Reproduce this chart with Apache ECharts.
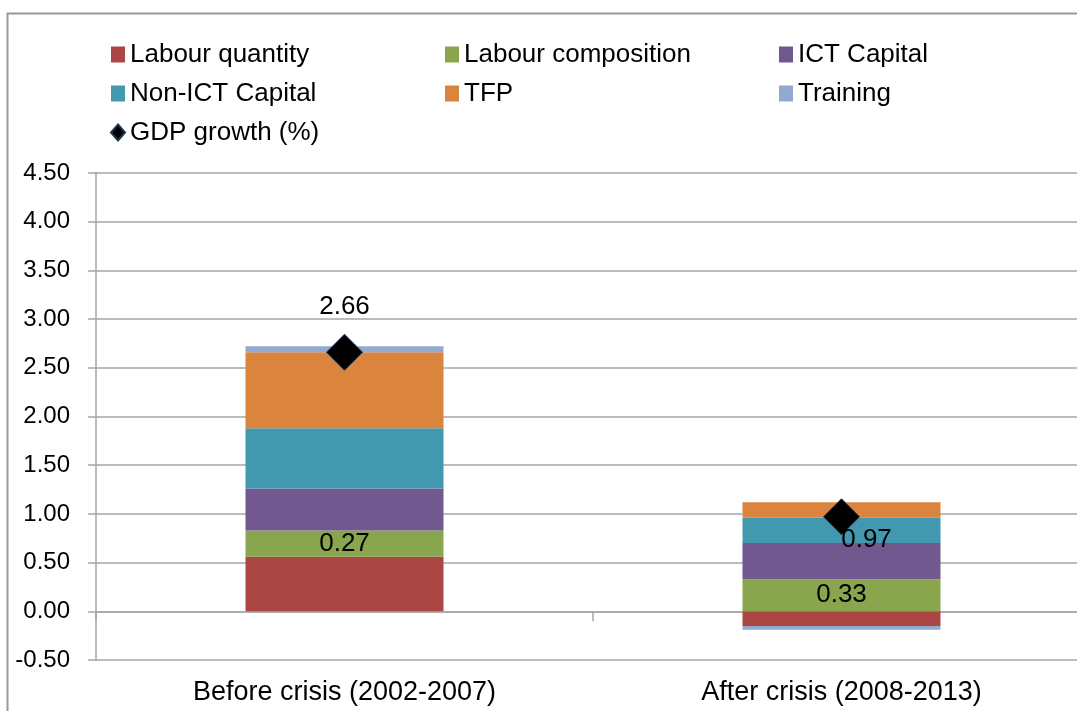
<!DOCTYPE html>
<html>
<head>
<meta charset="utf-8">
<script src="https://cdn.jsdelivr.net/npm/echarts@6/dist/echarts.min.js"></script>
<style>
    html, body { margin: 0; padding: 0; background: #fff; overflow: hidden; }
    #chart { width: 1090px; height: 711px; }
</style>
</head>
<body>
<div id="chart"></div>
<script>
// growth accounting data
let categories = ['Before crisis (2002-2007)', 'After crisis (2008-2013)'];
let labourQuantity = [0.56, -0.15];
let labourComposition = [0.27, 0.33];
let ictCapital = [0.43, 0.37];
let nonIctCapital = [0.62, 0.26];
let tfp = [0.78, 0.16];
let training = [0.06, -0.04];
let gdpGrowth = [2.66, 0.97];
let yTicks = {min: -0.5, max: 4.5, interval: 0.5};

let fontName = "'Liberation Sans', Arial, sans-serif";
let gridColor = '#a6a6a6';

let chart = echarts.init(document.getElementById('chart'));

function barSeries(name, data, color, showLabel) {
    return {
        name: name,
        type: 'bar',
        stack: 'total',
        xAxisIndex: 0,
        barWidth: 198,
        data: data,
        itemStyle: {color: color},
        label: {
            show: showLabel,
            position: 'inside',
            color: '#000',
            fontSize: 26,
            fontFamily: fontName,
            formatter: function (p) {
                return p.value.toFixed(2);
            }
        }
    };
}

let gdpLabel = {
    show: true,
    color: '#000',
    fontSize: 26,
    fontFamily: fontName
};

let option = {
    backgroundColor: '#fff',
    animation: false,
    textStyle: {fontFamily: fontName, color: '#000'},
    graphic: [{
        type: 'rect',
        left: 5,
        top: 11,
        shape: {width: 1200, height: 800},
        style: {fill: 'none', stroke: '#999', lineWidth: 2},
        silent: true
    }],
    legend: {
        left: 105,
        top: 35,
        width: 1000,
        itemWidth: 14,
        itemHeight: 16,
        itemGap: 10,
        textStyle: {
            fontSize: 26,
            color: '#000',
            width: 305,
            lineHeight: 29,
            fontFamily: fontName
        },
        data: [
            {name: 'Labour quantity', icon: 'rect'},
            {name: 'Labour composition', icon: 'rect'},
            {name: 'ICT Capital', icon: 'rect'},
            {name: 'Non-ICT Capital', icon: 'rect'},
            {name: 'TFP', icon: 'rect'},
            {name: 'Training', icon: 'rect'},
            {name: 'GDP growth (%)', icon: 'diamond'}
        ]
    },
    grid: {
        left: 96,
        top: 173,
        right: 0,
        bottom: 51
    },
    xAxis: [{
        type: 'category',
        data: categories,
        position: 'bottom',
        axisLine: {show: false, onZero: false},
        axisTick: {show: false},
        axisLabel: {
            fontSize: 27,
            color: '#000',
            margin: 19,
            fontFamily: fontName
        }
    }, {
        type: 'category',
        data: categories,
        position: 'bottom',
        axisLine: {show: true, onZero: true, lineStyle: {color: gridColor, width: 1.5}},
        axisTick: {show: true, length: 10, lineStyle: {color: gridColor, width: 1.5}},
        axisLabel: {show: false}
    }],
    yAxis: {
        type: 'value',
        min: yTicks.min,
        max: yTicks.max,
        interval: yTicks.interval,
        axisLine: {show: true, lineStyle: {color: gridColor, width: 1.5}},
        axisTick: {show: true, length: 8, lineStyle: {color: gridColor, width: 1.5}},
        splitLine: {show: true, lineStyle: {color: gridColor, width: 1.5}},
        axisLabel: {
            fontSize: 24,
            color: '#000',
            margin: 26,
            fontFamily: fontName,
            formatter: function (v) {
                return v.toFixed(2);
            }
        }
    },
    series: [
        barSeries('Labour quantity', labourQuantity, '#AA4643', false),
        barSeries('Labour composition', labourComposition, '#89A54E', true),
        barSeries('ICT Capital', ictCapital, '#71588F', false),
        barSeries('Non-ICT Capital', nonIctCapital, '#4198AF', false),
        barSeries('TFP', tfp, '#DB843D', false),
        barSeries('Training', training, '#93A9CF', false),
        {
            name: 'GDP growth (%)',
            type: 'scatter',
            xAxisIndex: 0,
            symbol: 'diamond',
            symbolSize: 36,
            itemStyle: {color: '#000', opacity: 1, borderColor: '#1f3550', borderWidth: 1},
            z: 5,
            data: gdpGrowth.map(function (v, i) {
                return {
                    value: v,
                    label: Object.assign({}, gdpLabel, i === 0
                        ? {position: 'top', distance: 14}
                        : {position: 'inside', offset: [25, 23]})
                };
            }),
            label: Object.assign({}, gdpLabel, {
                formatter: function (p) {
                    return p.value.toFixed(2);
                }
            })
        }
    ]
};
chart.setOption(option);
</script>
</body>
</html>
